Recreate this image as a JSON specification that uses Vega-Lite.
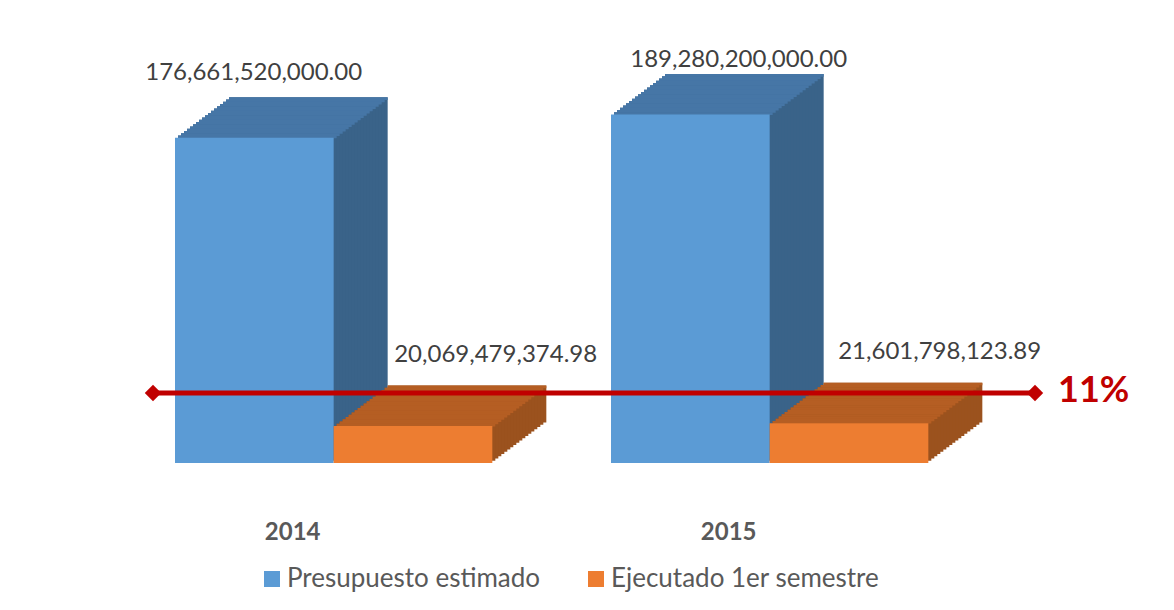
{
  "$schema": "https://vega.github.io/schema/vega-lite/v6.json",
  "width": 882,
  "height": 405,
  "autosize": {"type": "none"},
  "padding": {"left": 153, "top": 58, "right": 139, "bottom": 147},
  "background": "white",
  "datasets": {
    "bars": [
      {"year": "2014", "series": "Presupuesto estimado", "value": 176661520000.00},
      {"year": "2014", "series": "Ejecutado 1er semestre", "value": 20069479374.98},
      {"year": "2015", "series": "Presupuesto estimado", "value": 189280200000.00},
      {"year": "2015", "series": "Ejecutado 1er semestre", "value": 21601798123.89}
    ],
    "ratio": [
      {"label": "11%", "value": 38000000000}
    ]
  },
  "config": {
    "view": {"stroke": null},
    "axisX": {"labelFont": "Lato", "labelFontSize": 24, "labelFontWeight": "bold", "labelColor": "#595959", "labelOffset": -41, "labelPadding": 57, "ticks": false, "domain": false, "grid": false, "labelAngle": 0},
    "legend": {"orient": "none", "legendX": 106, "legendY": 508, "direction": "horizontal", "symbolType": "square", "symbolSize": 256, "symbolStrokeWidth": 0, "labelFont": "Lato", "labelFontSize": 26, "labelColor": "#595959", "labelLimit": 500, "columnPadding": 42, "labelOffset": 2}
  },
  "layer": [
    {
      "data": {"name": "bars"},
      "encoding": {
        "x": {"field": "year", "type": "nominal", "title": null, "scale": {"paddingInner": 0.2722, "paddingOuter": 0.14756, "align": 0.171, "round": false}},
        "y": {"field": "value", "type": "quantitative", "axis": null, "scale": {"domain": [0, 220000000000], "nice": false, "zero": true}}
      },
      "layer": [
        {
          "transform": [{"filter": "datum.series === 'Presupuesto estimado'"}],
          "encoding": {"fill": {"value": "#3a6389"}},
          "layer": [
            {"mark": {"type": "bar", "width": {"band": 0.5}, "xOffset": -25.33, "yOffset": -40.5, "y2Offset": -40.5}},
            {"mark": {"type": "bar", "width": {"band": 0.5}, "xOffset": -28.33, "yOffset": -38.25, "y2Offset": -38.25}},
            {"mark": {"type": "bar", "width": {"band": 0.5}, "xOffset": -31.33, "yOffset": -36, "y2Offset": -36}},
            {"mark": {"type": "bar", "width": {"band": 0.5}, "xOffset": -34.33, "yOffset": -33.75, "y2Offset": -33.75}},
            {"mark": {"type": "bar", "width": {"band": 0.5}, "xOffset": -37.33, "yOffset": -31.5, "y2Offset": -31.5}},
            {"mark": {"type": "bar", "width": {"band": 0.5}, "xOffset": -40.33, "yOffset": -29.25, "y2Offset": -29.25}},
            {"mark": {"type": "bar", "width": {"band": 0.5}, "xOffset": -43.33, "yOffset": -27, "y2Offset": -27}},
            {"mark": {"type": "bar", "width": {"band": 0.5}, "xOffset": -46.33, "yOffset": -24.75, "y2Offset": -24.75}},
            {"mark": {"type": "bar", "width": {"band": 0.5}, "xOffset": -49.33, "yOffset": -22.5, "y2Offset": -22.5}},
            {"mark": {"type": "bar", "width": {"band": 0.5}, "xOffset": -52.33, "yOffset": -20.25, "y2Offset": -20.25}},
            {"mark": {"type": "bar", "width": {"band": 0.5}, "xOffset": -55.33, "yOffset": -18, "y2Offset": -18}},
            {"mark": {"type": "bar", "width": {"band": 0.5}, "xOffset": -58.33, "yOffset": -15.75, "y2Offset": -15.75}},
            {"mark": {"type": "bar", "width": {"band": 0.5}, "xOffset": -61.33, "yOffset": -13.5, "y2Offset": -13.5}},
            {"mark": {"type": "bar", "width": {"band": 0.5}, "xOffset": -64.33, "yOffset": -11.25, "y2Offset": -11.25}},
            {"mark": {"type": "bar", "width": {"band": 0.5}, "xOffset": -67.33, "yOffset": -9, "y2Offset": -9}},
            {"mark": {"type": "bar", "width": {"band": 0.5}, "xOffset": -70.33, "yOffset": -6.75, "y2Offset": -6.75}},
            {"mark": {"type": "bar", "width": {"band": 0.5}, "xOffset": -73.33, "yOffset": -4.5, "y2Offset": -4.5}},
            {"mark": {"type": "bar", "width": {"band": 0.5}, "xOffset": -76.33, "yOffset": -2.25, "y2Offset": -2.25}}
          ]
        },
        {
          "transform": [{"filter": "datum.series === 'Ejecutado 1er semestre'"}],
          "encoding": {"fill": {"value": "#9b521e"}},
          "layer": [
            {"mark": {"type": "bar", "width": {"band": 0.5}, "xOffset": 133.33, "yOffset": -40.5, "y2Offset": -40.5}},
            {"mark": {"type": "bar", "width": {"band": 0.5}, "xOffset": 130.33, "yOffset": -38.25, "y2Offset": -38.25}},
            {"mark": {"type": "bar", "width": {"band": 0.5}, "xOffset": 127.33, "yOffset": -36, "y2Offset": -36}},
            {"mark": {"type": "bar", "width": {"band": 0.5}, "xOffset": 124.33, "yOffset": -33.75, "y2Offset": -33.75}},
            {"mark": {"type": "bar", "width": {"band": 0.5}, "xOffset": 121.33, "yOffset": -31.5, "y2Offset": -31.5}},
            {"mark": {"type": "bar", "width": {"band": 0.5}, "xOffset": 118.33, "yOffset": -29.25, "y2Offset": -29.25}},
            {"mark": {"type": "bar", "width": {"band": 0.5}, "xOffset": 115.33, "yOffset": -27, "y2Offset": -27}},
            {"mark": {"type": "bar", "width": {"band": 0.5}, "xOffset": 112.33, "yOffset": -24.75, "y2Offset": -24.75}},
            {"mark": {"type": "bar", "width": {"band": 0.5}, "xOffset": 109.33, "yOffset": -22.5, "y2Offset": -22.5}},
            {"mark": {"type": "bar", "width": {"band": 0.5}, "xOffset": 106.33, "yOffset": -20.25, "y2Offset": -20.25}},
            {"mark": {"type": "bar", "width": {"band": 0.5}, "xOffset": 103.33, "yOffset": -18, "y2Offset": -18}},
            {"mark": {"type": "bar", "width": {"band": 0.5}, "xOffset": 100.33, "yOffset": -15.75, "y2Offset": -15.75}},
            {"mark": {"type": "bar", "width": {"band": 0.5}, "xOffset": 97.33, "yOffset": -13.5, "y2Offset": -13.5}},
            {"mark": {"type": "bar", "width": {"band": 0.5}, "xOffset": 94.33, "yOffset": -11.25, "y2Offset": -11.25}},
            {"mark": {"type": "bar", "width": {"band": 0.5}, "xOffset": 91.33, "yOffset": -9, "y2Offset": -9}},
            {"mark": {"type": "bar", "width": {"band": 0.5}, "xOffset": 88.33, "yOffset": -6.75, "y2Offset": -6.75}},
            {"mark": {"type": "bar", "width": {"band": 0.5}, "xOffset": 85.33, "yOffset": -4.5, "y2Offset": -4.5}},
            {"mark": {"type": "bar", "width": {"band": 0.5}, "xOffset": 82.33, "yOffset": -2.25, "y2Offset": -2.25}}
          ]
        },
        {
          "transform": [{"filter": "datum.series === 'Presupuesto estimado'"}],
          "encoding": {"y2": {"field": "value"}, "fill": {"value": "#4676a6"}},
          "layer": [
            {"mark": {"type": "bar", "width": {"band": 0.5}, "xOffset": -25.33, "yOffset": -40.5, "y2Offset": -37.9}},
            {"mark": {"type": "bar", "width": {"band": 0.5}, "xOffset": -28.33, "yOffset": -38.25, "y2Offset": -35.65}},
            {"mark": {"type": "bar", "width": {"band": 0.5}, "xOffset": -31.33, "yOffset": -36, "y2Offset": -33.4}},
            {"mark": {"type": "bar", "width": {"band": 0.5}, "xOffset": -34.33, "yOffset": -33.75, "y2Offset": -31.15}},
            {"mark": {"type": "bar", "width": {"band": 0.5}, "xOffset": -37.33, "yOffset": -31.5, "y2Offset": -28.9}},
            {"mark": {"type": "bar", "width": {"band": 0.5}, "xOffset": -40.33, "yOffset": -29.25, "y2Offset": -26.65}},
            {"mark": {"type": "bar", "width": {"band": 0.5}, "xOffset": -43.33, "yOffset": -27, "y2Offset": -24.4}},
            {"mark": {"type": "bar", "width": {"band": 0.5}, "xOffset": -46.33, "yOffset": -24.75, "y2Offset": -22.15}},
            {"mark": {"type": "bar", "width": {"band": 0.5}, "xOffset": -49.33, "yOffset": -22.5, "y2Offset": -19.9}},
            {"mark": {"type": "bar", "width": {"band": 0.5}, "xOffset": -52.33, "yOffset": -20.25, "y2Offset": -17.65}},
            {"mark": {"type": "bar", "width": {"band": 0.5}, "xOffset": -55.33, "yOffset": -18, "y2Offset": -15.4}},
            {"mark": {"type": "bar", "width": {"band": 0.5}, "xOffset": -58.33, "yOffset": -15.75, "y2Offset": -13.15}},
            {"mark": {"type": "bar", "width": {"band": 0.5}, "xOffset": -61.33, "yOffset": -13.5, "y2Offset": -10.9}},
            {"mark": {"type": "bar", "width": {"band": 0.5}, "xOffset": -64.33, "yOffset": -11.25, "y2Offset": -8.65}},
            {"mark": {"type": "bar", "width": {"band": 0.5}, "xOffset": -67.33, "yOffset": -9, "y2Offset": -6.4}},
            {"mark": {"type": "bar", "width": {"band": 0.5}, "xOffset": -70.33, "yOffset": -6.75, "y2Offset": -4.15}},
            {"mark": {"type": "bar", "width": {"band": 0.5}, "xOffset": -73.33, "yOffset": -4.5, "y2Offset": -1.9}},
            {"mark": {"type": "bar", "width": {"band": 0.5}, "xOffset": -76.33, "yOffset": -2.25, "y2Offset": 0.35}}
          ]
        },
        {
          "transform": [{"filter": "datum.series === 'Ejecutado 1er semestre'"}],
          "encoding": {"y2": {"field": "value"}, "fill": {"value": "#b55e23"}},
          "layer": [
            {"mark": {"type": "bar", "width": {"band": 0.5}, "xOffset": 133.33, "yOffset": -40.5, "y2Offset": -37.9}},
            {"mark": {"type": "bar", "width": {"band": 0.5}, "xOffset": 130.33, "yOffset": -38.25, "y2Offset": -35.65}},
            {"mark": {"type": "bar", "width": {"band": 0.5}, "xOffset": 127.33, "yOffset": -36, "y2Offset": -33.4}},
            {"mark": {"type": "bar", "width": {"band": 0.5}, "xOffset": 124.33, "yOffset": -33.75, "y2Offset": -31.15}},
            {"mark": {"type": "bar", "width": {"band": 0.5}, "xOffset": 121.33, "yOffset": -31.5, "y2Offset": -28.9}},
            {"mark": {"type": "bar", "width": {"band": 0.5}, "xOffset": 118.33, "yOffset": -29.25, "y2Offset": -26.65}},
            {"mark": {"type": "bar", "width": {"band": 0.5}, "xOffset": 115.33, "yOffset": -27, "y2Offset": -24.4}},
            {"mark": {"type": "bar", "width": {"band": 0.5}, "xOffset": 112.33, "yOffset": -24.75, "y2Offset": -22.15}},
            {"mark": {"type": "bar", "width": {"band": 0.5}, "xOffset": 109.33, "yOffset": -22.5, "y2Offset": -19.9}},
            {"mark": {"type": "bar", "width": {"band": 0.5}, "xOffset": 106.33, "yOffset": -20.25, "y2Offset": -17.65}},
            {"mark": {"type": "bar", "width": {"band": 0.5}, "xOffset": 103.33, "yOffset": -18, "y2Offset": -15.4}},
            {"mark": {"type": "bar", "width": {"band": 0.5}, "xOffset": 100.33, "yOffset": -15.75, "y2Offset": -13.15}},
            {"mark": {"type": "bar", "width": {"band": 0.5}, "xOffset": 97.33, "yOffset": -13.5, "y2Offset": -10.9}},
            {"mark": {"type": "bar", "width": {"band": 0.5}, "xOffset": 94.33, "yOffset": -11.25, "y2Offset": -8.65}},
            {"mark": {"type": "bar", "width": {"band": 0.5}, "xOffset": 91.33, "yOffset": -9, "y2Offset": -6.4}},
            {"mark": {"type": "bar", "width": {"band": 0.5}, "xOffset": 88.33, "yOffset": -6.75, "y2Offset": -4.15}},
            {"mark": {"type": "bar", "width": {"band": 0.5}, "xOffset": 85.33, "yOffset": -4.5, "y2Offset": -1.9}},
            {"mark": {"type": "bar", "width": {"band": 0.5}, "xOffset": 82.33, "yOffset": -2.25, "y2Offset": 0.35}}
          ]
        },
        {
          "mark": {"type": "bar"},
          "encoding": {
            "xOffset": {"field": "series", "type": "nominal", "scale": {"domain": ["Presupuesto estimado", "Ejecutado 1er semestre"], "paddingInner": 0, "paddingOuter": 0, "round": false}},
            "color": {"field": "series", "type": "nominal", "title": null, "scale": {"domain": ["Presupuesto estimado", "Ejecutado 1er semestre"], "range": ["#5b9bd5", "#ed7d31"]}}
          }
        },
        {
          "encoding": {"text": {"field": "value", "type": "quantitative", "format": ",.2f"}},
          "layer": [
            {"transform": [{"filter": "datum.year === '2014' && datum.series === 'Presupuesto estimado'"}], "mark": {"type": "text", "font": "Lato", "fontSize": 24, "color": "#404040", "align": "center", "baseline": "alphabetic", "dx": -80, "dy": -58}},
            {"transform": [{"filter": "datum.year === '2015' && datum.series === 'Presupuesto estimado'"}], "mark": {"type": "text", "font": "Lato", "fontSize": 24, "color": "#404040", "align": "center", "baseline": "alphabetic", "dx": -31, "dy": -48}},
            {"transform": [{"filter": "datum.year === '2014' && datum.series === 'Ejecutado 1er semestre'"}], "mark": {"type": "text", "font": "Lato", "fontSize": 24, "color": "#404040", "align": "center", "baseline": "alphabetic", "dx": 162, "dy": -64}},
            {"transform": [{"filter": "datum.year === '2015' && datum.series === 'Ejecutado 1er semestre'"}], "mark": {"type": "text", "font": "Lato", "fontSize": 24, "color": "#404040", "align": "center", "baseline": "alphabetic", "dx": 170, "dy": -64}}
          ]
        }
      ]
    },
    {
      "data": {"name": "ratio"},
      "encoding": {
        "y": {"field": "value", "type": "quantitative", "axis": null, "scale": {"domain": [0, 220000000000], "nice": false, "zero": true}}
      },
      "layer": [
        {"mark": {"type": "rule", "color": "#c00000", "strokeWidth": 5}, "encoding": {}},
        {"mark": {"type": "point", "shape": "diamond", "filled": true, "size": 270, "color": "#c00000", "opacity": 1}, "encoding": {"x": {"value": 0}}},
        {"mark": {"type": "point", "shape": "diamond", "filled": true, "size": 270, "color": "#c00000", "opacity": 1}, "encoding": {"x": {"value": "width"}}},
        {"mark": {"type": "text", "font": "Lato", "fontSize": 36, "fontWeight": "bold", "color": "#c00000", "align": "left", "baseline": "middle", "dx": 23, "dy": -2}, "encoding": {"x": {"value": "width"}, "text": {"field": "label"}}}
      ]
    }
  ]
}
